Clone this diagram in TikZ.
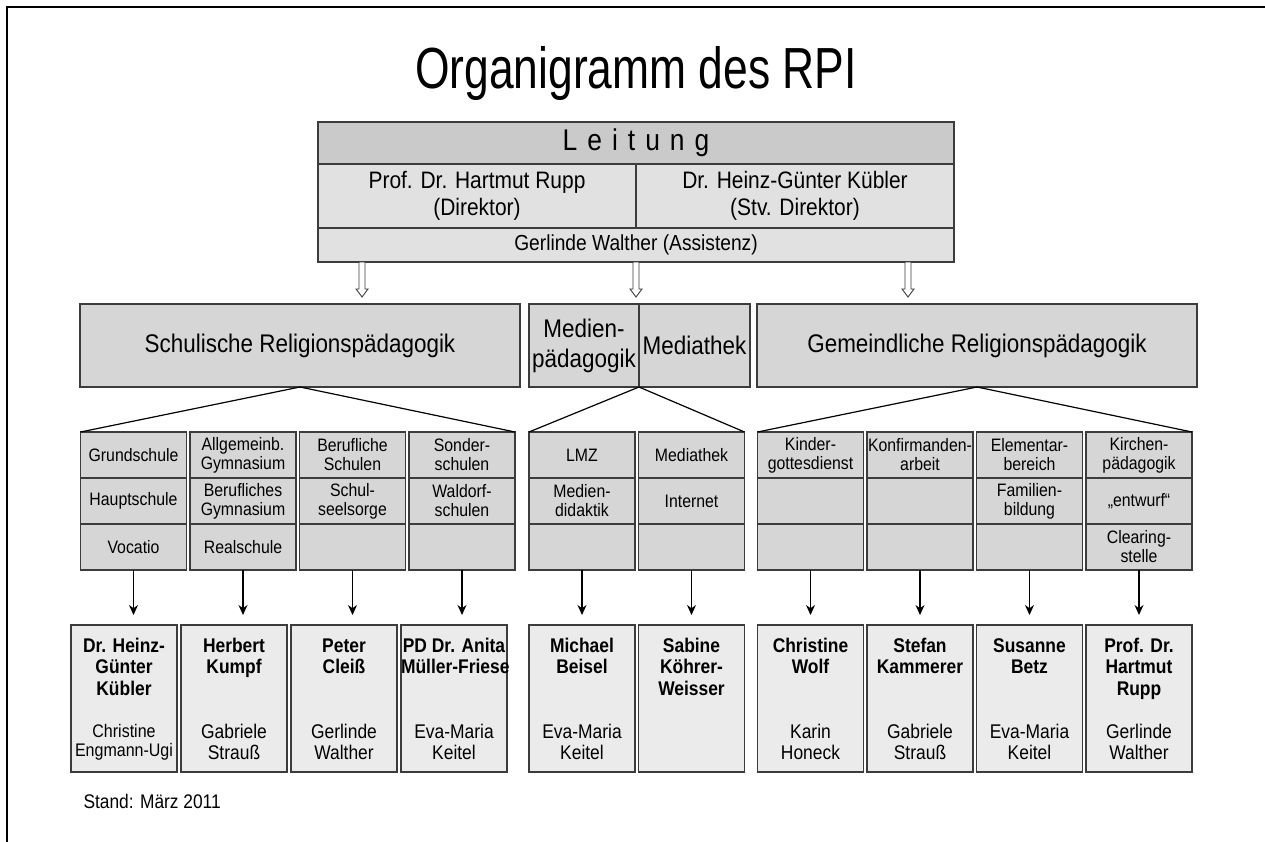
\documentclass[tikz,border=0pt]{standalone}
\usepackage{fontspec}
\setmainfont{Liberation Sans}[FakeStretch=0.88]
\usetikzlibrary{positioning,calc,arrows.meta}
\definecolor{RPIHead}{HTML}{CACACA}
\definecolor{RPIRow}{HTML}{E1E1E1}
\definecolor{RPICell}{HTML}{D6D6D6}
\definecolor{RPIStaff}{HTML}{EBEBEB}
\definecolor{RPILine}{HTML}{3C3C3C}
\newcommand{\ls}{\hspace{10pt}}
\newcommand{\staff}[2]{\parbox[c][123pt]{106pt}{\centering\bfseries\strut #1\par\vfill\mdseries #2\par}}

\begin{document}
\begin{tikzpicture}[x=1pt,y=-1pt,>={Stealth[length=10pt,width=9pt]},node distance=3.5pt]
  \tikzstyle{head}=[draw=RPILine,fill=RPIHead,line width=1.3pt,inner sep=0pt,outer sep=0pt,
    minimum width=636pt,minimum height=42pt,font=\fontsize{30}{32}\selectfont]
  \tikzstyle{namerow}=[draw=RPILine,fill=RPIRow,line width=1.3pt,inner sep=0pt,outer sep=0pt,
    minimum width=318pt,minimum height=64pt,align=center,font=\fontsize{23.8}{27}\selectfont]
  \tikzstyle{topic}=[draw=RPILine,fill=RPICell,line width=1.3pt,inner sep=0pt,outer sep=0pt,
    minimum width=440pt,minimum height=83pt,align=center,font=\fontsize{25.5}{30}\selectfont]
  \tikzstyle{cell}=[draw=RPILine,fill=RPICell,line width=1.3pt,inner sep=0pt,outer sep=0pt,
    minimum width=106pt,minimum height=46pt,align=center,font=\fontsize{18}{19}\selectfont]
  \tikzstyle{staffbox}=[draw=RPILine,fill=RPIStaff,line width=1.3pt,inner sep=0pt,outer sep=0pt,
    minimum width=106pt,minimum height=147pt,font=\fontsize{19.8}{21.7}\selectfont]
  \tikzstyle{branch}=[line width=1.2pt]
  \tikzstyle{down}=[->,line width=1.2pt,shorten >=10pt]
  \tikzstyle{hollow}=[draw=RPILine,fill=white,line width=0.9pt,
    to path={let \p1=(\tikztostart),\p2=(\tikztotarget) in
      -- (\x1-3pt,\y1) -- (\x1-3pt,\y2+8pt) -- (\x1-6pt,\y2+8pt) -- (\x2,\y2)
      -- (\x1+6pt,\y2+8pt) -- (\x1+3pt,\y2+8pt) -- (\x1+3pt,\y1) -- cycle}]

  \useasboundingbox (0,0) rectangle (1265,842);
  \draw[line width=2.6pt] (7,842) -- (7,7) -- (1265,7);

  \node[anchor=base,font=\fontsize{58}{60}\selectfont,xscale=0.87,transform shape] (title) at (636,89) {Organigramm des RPI};

  % Leitung
  \node[head] (leitung) at (636,143) {L\ls e\ls i\ls t\ls u\ls n\ls g};
  \node[namerow,below right=0pt and 0pt of leitung.south west] (rupp) {Prof. Dr. Hartmut Rupp\\(Direktor)};
  \node[namerow,right=0pt of rupp] (kuebler) {Dr. Heinz-Günter Kübler\\(Stv. Direktor)};
  \node[namerow,below right=0pt and 0pt of rupp.south west,minimum width=636pt,minimum height=34pt,
    font=\fontsize{21.8}{24}\selectfont] (asst) {Gerlinde Walther (Assistenz)};

  \coordinate (a1) at (362,297);
  \coordinate (a2) at (636,297);
  \coordinate (a3) at (908,297);
  \draw[hollow] (asst.south -| a1) to (a1);
  \draw[hollow] (asst.south -| a2) to (a2);
  \draw[hollow] (asst.south -| a3) to (a3);

  % Bereiche
  \node[topic] (schul) at (300,345.5) {Schulische Religionspädagogik};
  \node[topic,minimum width=110pt] (medpaed) at (584,345.5) {Medien-\\pädagogik};
  \node[topic,minimum width=111pt,right=0pt of medpaed] (medthek) {Mediathek};
  \node[topic] (gemeind) at (977,345.5) {Gemeindliche Religionspädagogik};

  % Schulische Felder
  \node[cell] (grund) at (133.5,455) {Grundschule};
  \node[cell,below=0pt of grund] (haupt) {Hauptschule};
  \node[cell,below=0pt of haupt] (vocatio) {Vocatio};
  \node[cell,right=of grund] (allg) {Allgemeinb.\\Gymnasium};
  \node[cell,below=0pt of allg] (berufgym) {Berufliches\\Gymnasium};
  \node[cell,below=0pt of berufgym] (real) {Realschule};
  \node[cell,right=of allg] (beruf) {Berufliche\\Schulen};
  \node[cell,below=0pt of beruf] (seelsorge) {Schul-\\seelsorge};
  \node[cell,below=0pt of seelsorge] (berufleer) {};
  \node[cell,right=of beruf] (sonder) {Sonder-\\schulen};
  \node[cell,below=0pt of sonder] (waldorf) {Waldorf-\\schulen};
  \node[cell,below=0pt of waldorf] (sonderleer) {};

  % Medien
  \node[cell] (lmz) at (582,455) {LMZ};
  \node[cell,below=0pt of lmz] (didaktik) {Medien-\\didaktik};
  \node[cell,below=0pt of didaktik] (lmzleer) {};
  \node[cell,right=of lmz] (thek) {Mediathek};
  \node[cell,below=0pt of thek] (internet) {Internet};
  \node[cell,below=0pt of internet] (thekleer) {};

  % Gemeindliche Felder
  \node[cell] (kigo) at (810.5,455) {Kinder-\\gottesdienst};
  \node[cell,below=0pt of kigo] (kigoleer) {};
  \node[cell,below=0pt of kigoleer] (kigoleerb) {};
  \node[cell,right=of kigo] (konfi) {Konfirmanden-\\arbeit};
  \node[cell,below=0pt of konfi] (konfileer) {};
  \node[cell,below=0pt of konfileer] (konfileerb) {};
  \node[cell,right=of konfi] (elementar) {Elementar-\\bereich};
  \node[cell,below=0pt of elementar] (familie) {Familien-\\bildung};
  \node[cell,below=0pt of familie] (elemleer) {};
  \node[cell,right=of elementar] (kirche) {Kirchen-\\pädagogik};
  \node[cell,below=0pt of kirche] (entwurf) {„entwurf“};
  \node[cell,below=0pt of entwurf] (clearing) {Clearing-\\stelle};

  \draw[branch] (schul.south) -- (grund.north west);
  \draw[branch] (schul.south) -- (sonder.north east);
  \draw[branch] (medpaed.south east) -- (lmz.north west);
  \draw[branch] (medpaed.south east) -- (thek.north east);
  \draw[branch] (gemeind.south) -- (kigo.north west);
  \draw[branch] (gemeind.south) -- (kirche.north east);

  % Personen
  \node[staffbox] (pKuebler) at (124,698.5) {\staff{Dr. Heinz-\\Günter\\Kübler}{\fontsize{18.2}{19}\selectfont Christine\\Engmann-Ugi}};
  \node[staffbox,right=4pt of pKuebler] (pKumpf) {\staff{Herbert\\Kumpf}{Gabriele\\Strauß}};
  \node[staffbox,right=4pt of pKumpf] (pCleiss) {\staff{Peter\\Cleiß}{Gerlinde\\Walther}};
  \node[staffbox,right=4pt of pCleiss] (pMueller) {\staff{PD Dr. Anita\\\mbox{Müller-Friese}}{Eva-Maria\\Keitel}};
  \node[staffbox] (pBeisel) at (lmz |- pKuebler) {\staff{Michael\\Beisel}{Eva-Maria\\Keitel}};
  \node[staffbox,right=of pBeisel] (pKoehrer) {\staff{Sabine\\Köhrer-\\Weisser}{}};
  \node[staffbox] (pWolf) at (kigo |- pKuebler) {\staff{Christine\\Wolf}{Karin\\Honeck}};
  \node[staffbox,right=of pWolf] (pKammerer) {\staff{Stefan\\Kammerer}{Gabriele\\Strauß}};
  \node[staffbox,right=of pKammerer] (pBetz) {\staff{Susanne\\Betz}{Eva-Maria\\Keitel}};
  \node[staffbox,right=of pBetz] (pRupp) {\staff{Prof. Dr.\\Hartmut\\Rupp}{Gerlinde\\Walther}};

  \draw[down] (vocatio.south) -- (vocatio.south |- pKuebler.north);
  \draw[down] (real.south) -- (real.south |- pKumpf.north);
  \draw[down] (berufleer.south) -- (berufleer.south |- pCleiss.north);
  \draw[down] (sonderleer.south) -- (sonderleer.south |- pMueller.north);
  \draw[down] (lmzleer.south) -- (pBeisel);
  \draw[down] (thekleer.south) -- (pKoehrer);
  \draw[down] (kigoleerb.south) -- (pWolf);
  \draw[down] (konfileerb.south) -- (pKammerer);
  \draw[down] (elemleer.south) -- (pBetz);
  \draw[down] (clearing.south) -- (pRupp);

  \node[anchor=west,font=\fontsize{19.7}{21}\selectfont] (stand) at (80,801) {Stand: März 2011};
\end{tikzpicture}
\end{document}
